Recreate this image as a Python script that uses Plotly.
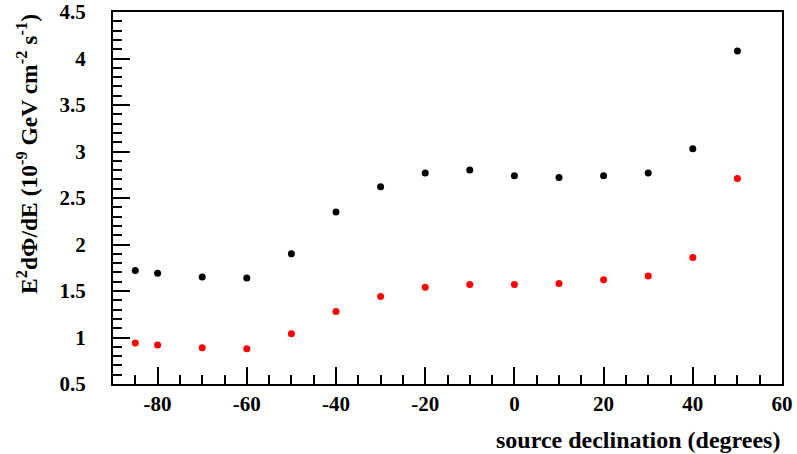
import plotly.graph_objects as go

declination = [-85, -80, -70, -60, -50, -40, -30, -20, -10, 0, 10, 20, 30, 40, 50]
flux_black = [1.72, 1.69, 1.65, 1.64, 1.90, 2.35, 2.62, 2.77, 2.80, 2.74, 2.72, 2.74, 2.77, 3.03, 4.08]
flux_red = [0.94, 0.92, 0.89, 0.88, 1.04, 1.28, 1.44, 1.54, 1.57, 1.57, 1.58, 1.62, 1.66, 1.86, 2.71]

x_ticks = [-80, -60, -40, -20, 0, 20, 40, 60]
x_labels = ["-80", "-60", "-40", "-20", "0", "20", "40", "60"]
y_ticks = [0.5, 1, 1.5, 2, 2.5, 3, 3.5, 4, 4.5]
y_labels = ["0.5", "1", "1.5", "2", "2.5", "3", "3.5", "4", "4.5"]

FONT = "Liberation Serif"
TS = 21
PAD = "&nbsp;" * 4

fig = go.Figure()
fig.add_trace(go.Scatter(x=declination, y=flux_black, mode="markers",
                         marker=dict(color="black", size=7), showlegend=False))
fig.add_trace(go.Scatter(x=declination, y=flux_red, mode="markers",
                         marker=dict(color="#ff0000", size=7), showlegend=False))

axis_common = dict(showgrid=False, zeroline=False, showline=True, linecolor="black",
                   linewidth=2, mirror=True, ticks="inside", tickcolor="black",
                   tickwidth=2, automargin=False, ticklen=17, ticklabeloverflow="allow",
                   tickfont=dict(family=FONT, size=TS, color="black"))

fig.update_xaxes(range=[-90, 60], tickmode="array", tickvals=x_ticks,
                 ticktext=["<b>" + t + "</b>" for t in x_labels],
                 minor=dict(ticks="inside", dtick=5, tick0=-90, ticklen=9,
                            tickcolor="black", tickwidth=2, showgrid=False),
                 **axis_common)
fig.update_yaxes(range=[0.5, 4.5], tickmode="array", tickvals=y_ticks,
                 ticktext=["<b>" + t + PAD + "</b>" for t in y_labels],
                 minor=dict(ticks="inside", dtick=0.1, tick0=0.5, ticklen=9,
                            tickcolor="black", tickwidth=2, showgrid=False),
                 **axis_common)

fig.add_annotation(text="<b>source declination (degrees)</b>", xref="paper", yref="paper",
                   x=1.0, y=-0.1505, xanchor="right", yanchor="middle", showarrow=False,
                   font=dict(family=FONT, size=24, color="black"))
fig.add_annotation(text="<b>E<sup>2</sup>dΦ/dE (10<sup>-9</sup> GeV cm<sup>-2</sup> s<sup>-1</sup>)</b>",
                   xref="paper", yref="paper", x=-0.1286, y=1.0, xanchor="center",
                   yanchor="top", textangle=-90, showarrow=False,
                   font=dict(family=FONT, size=23.5, color="black"))

fig.update_layout(width=797, height=454, plot_bgcolor="white", paper_bgcolor="white",
                  margin=dict(l=113, r=15, t=12, b=70),
                  font=dict(family=FONT, size=TS, color="black"))

# remove the default 8px page margin so the figure fills the window exactly
fig.write_html("out.html", config={"displayModeBar": False},
               post_script="document.body.style.margin='0';document.body.style.overflow='hidden';")
